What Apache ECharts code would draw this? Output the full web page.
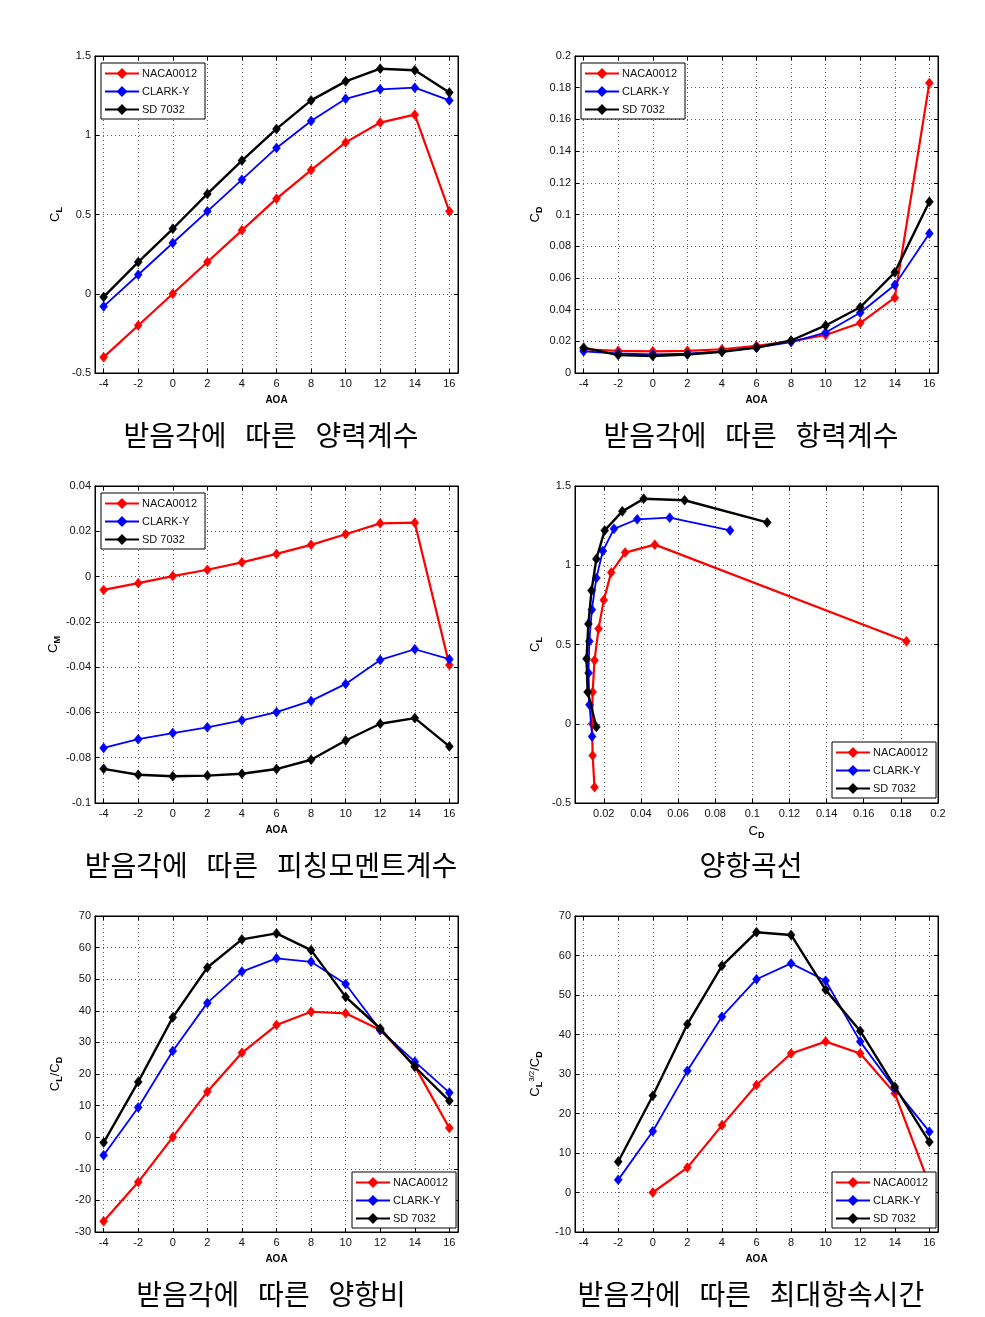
<!DOCTYPE html>
<html><head><meta charset="utf-8">
<script src="https://cdn.jsdelivr.net/npm/echarts@6/dist/echarts.min.js"></script>
<style>html,body{margin:0;padding:0;background:#fff}#c{width:985px;height:1317px}</style>
</head><body><div id="c"></div>
<script>
// ---------- DATA ----------
const aoa = [-4, -2, 0, 2, 4, 6, 8, 10, 12, 14, 16];
const aoaTicks = [-4, -2, 0, 2, 4, 6, 8, 10, 12, 14, 16];
const cdTicks = [0.02, 0.04, 0.06, 0.08, 0.1, 0.12, 0.14, 0.16, 0.18, 0.2];
const seriesNames = ['NACA0012', 'CLARK-Y', 'SD 7032'];

// Lift coefficient C_L vs AOA
const clNACA = [-0.40, -0.20, 0.00, 0.20, 0.40, 0.60, 0.78, 0.955, 1.08, 1.13, 0.52];
const clCLARK = [-0.08, 0.12, 0.32, 0.52, 0.72, 0.92, 1.09, 1.23, 1.29, 1.30, 1.22];
const clSD = [-0.02, 0.20, 0.41, 0.63, 0.84, 1.04, 1.22, 1.34, 1.42, 1.41, 1.27];

// Drag coefficient C_D vs AOA
const cdNACA = [0.0150, 0.0140, 0.0137, 0.0140, 0.0150, 0.0172, 0.0200, 0.0240, 0.0315, 0.0475, 0.183];
const cdCLARK = [0.0137, 0.0123, 0.0118, 0.0122, 0.0136, 0.0160, 0.0195, 0.0255, 0.0380, 0.0555, 0.0880];
const cdSD = [0.0160, 0.0113, 0.0107, 0.0117, 0.0134, 0.0160, 0.0205, 0.0300, 0.0415, 0.0635, 0.1080];

// Pitching moment coefficient C_M vs AOA
const cmNACA = [-0.0059, -0.0029, 0.0002, 0.0030, 0.0063, 0.0100, 0.0140, 0.0187, 0.0235, 0.0238, -0.0390];
const cmCLARK = [-0.0757, -0.0718, -0.0691, -0.0666, -0.0635, -0.0599, -0.0549, -0.0474, -0.0368, -0.0321, -0.0365];
const cmSD = [-0.0849, -0.0875, -0.0882, -0.0879, -0.0871, -0.0850, -0.0809, -0.0724, -0.0650, -0.0625, -0.0750];

// Lift-to-drag ratio C_L/C_D vs AOA
const ldNACA = [-26.6, -14.2, 0.0, 14.4, 26.7, 35.5, 39.7, 39.2, 33.9, 22.5, 2.9];
const ldCLARK = [-5.7, 9.4, 27.3, 42.5, 52.4, 56.6, 55.5, 48.5, 33.9, 23.9, 14.1];
const ldSD = [-1.7, 17.5, 37.9, 53.7, 62.6, 64.5, 59.2, 44.4, 34.4, 22.3, 11.5];

// Endurance factor C_L^(3/2)/C_D vs AOA (null where C_L < 0)
const enNACA = [null, null, 0.0, 6.3, 17.0, 27.2, 35.2, 38.2, 35.2, 25.1, 2.0];
const enCLARK = [null, 3.2, 15.5, 30.8, 44.5, 54.0, 58.0, 53.6, 38.2, 26.3, 15.4];
const enSD = [null, 7.8, 24.5, 42.6, 57.4, 65.9, 65.2, 51.3, 40.9, 26.8, 12.8];

const captions = [
  '받음각에   따른   양력계수',
  '받음각에   따른   항력계수',
  '받음각에   따른   피칭모멘트계수',
  '양항곡선',
  '받음각에   따른   양항비',
  '받음각에   따른   최대항속시간'
];

// ---------- LAYOUT / STYLE ----------
const colors = ['#ff0000', '#0000ff', '#000000'];
const lineWidths = [2.2, 1.8, 2.4];
const FONT = 'Liberation Sans, Arial, sans-serif';
const grids = [
  {left: 95, top: 56, width: 363, height: 317},
  {left: 575, top: 56, width: 363, height: 317},
  {left: 95, top: 486, width: 363, height: 317},
  {left: 575, top: 486, width: 363, height: 317},
  {left: 95, top: 916, width: 363, height: 316},
  {left: 575, top: 916, width: 363, height: 316}
];
const captionPos = [
  {x: 266, y: 416}, {x: 746, y: 416},
  {x: 266, y: 846}, {x: 746, y: 846},
  {x: 266, y: 1275}, {x: 746, y: 1275}
];
const legendPos = [
  {left: 101, top: 63}, {left: 581, top: 63}, {left: 101, top: 493},
  {left: 832, top: 742}, {left: 352, top: 1172}, {left: 832, top: 1172}
];

const nameRich = {
  c: {fontSize: 13, fontFamily: FONT, color: '#000'},
  s: {fontSize: 9, fontFamily: FONT, color: '#000', fontWeight: 'bold', padding: [8, 0, 0, 0]},
  p: {fontSize: 8, fontFamily: FONT, color: '#000', padding: [0, 0, 8, 0]}
};

const panelAxes = [
  {x: {min: -4.5, max: 16.5, ticks: aoaTicks, name: 'AOA'}, y: {min: -0.5, max: 1.5, interval: 0.5, name: '{c|C}{s|L}'}},
  {x: {min: -4.5, max: 16.5, ticks: aoaTicks, name: 'AOA'}, y: {min: 0, max: 0.2, interval: 0.02, name: '{c|C}{s|D}'}},
  {x: {min: -4.5, max: 16.5, ticks: aoaTicks, name: 'AOA'}, y: {min: -0.1, max: 0.04, interval: 0.02, name: '{c|C}{s|M}'}},
  {x: {min: 0.0045, max: 0.2, ticks: cdTicks, name: '{c|C}{s|D}'}, y: {min: -0.5, max: 1.5, interval: 0.5, name: '{c|C}{s|L}'}},
  {x: {min: -4.5, max: 16.5, ticks: aoaTicks, name: 'AOA'}, y: {min: -30, max: 70, interval: 10, name: '{c|C}{s|L}{c|/C}{s|D}'}},
  {x: {min: -4.5, max: 16.5, ticks: aoaTicks, name: 'AOA'}, y: {min: -10, max: 70, interval: 10, name: '{c|C}{s|L}{p|3/2}{c|/C}{s|D}'}}
];

const panelData = [
  [clNACA, clCLARK, clSD],
  [cdNACA, cdCLARK, cdSD],
  [cmNACA, cmCLARK, cmSD],
  null,
  [ldNACA, ldCLARK, ldSD],
  [enNACA, enCLARK, enSD]
];

const xAxes = [], yAxes = [], series = [], legends = [], titles = [];
const tickStyle = {show: true, inside: true, length: 4, lineStyle: {color: '#000', width: 1}};
const splitStyle = {show: true, lineStyle: {color: '#555', width: 1, type: [1, 3]}};
const lineStyleAxis = {show: true, onZero: false, lineStyle: {color: '#000', width: 1}};

panelAxes.forEach((p, gi) => {
  const xi = xAxes.length;
  xAxes.push({
    type: 'value', gridIndex: gi, position: 'bottom', min: p.x.min, max: p.x.max,
    axisLine: lineStyleAxis,
    axisTick: Object.assign({customValues: p.x.ticks}, tickStyle),
    axisLabel: {customValues: p.x.ticks, color: '#111', fontSize: 11, fontFamily: FONT, margin: 5},
    splitLine: splitStyle,
    name: p.x.name, nameLocation: 'middle', nameGap: gi === 3 ? 20 : 22,
    nameTextStyle: p.x.name === 'AOA'
      ? {fontSize: 10, fontWeight: 'bold', fontFamily: FONT, color: '#000'}
      : {rich: nameRich}
  });
  xAxes.push({
    type: 'value', gridIndex: gi, position: 'top', min: p.x.min, max: p.x.max,
    axisLine: lineStyleAxis,
    axisTick: Object.assign({customValues: p.x.ticks}, tickStyle),
    axisLabel: {show: false}, splitLine: {show: false}
  });
  const yi = yAxes.length;
  yAxes.push({
    type: 'value', gridIndex: gi, position: 'left', min: p.y.min, max: p.y.max, interval: p.y.interval,
    axisLine: lineStyleAxis,
    axisTick: tickStyle,
    axisLabel: {color: '#111', fontSize: 11, fontFamily: FONT, margin: 4},
    splitLine: splitStyle,
    name: p.y.name, nameLocation: 'middle', nameRotate: 90, nameGap: 31,
    nameTextStyle: {rich: nameRich}
  });
  yAxes.push({
    type: 'value', gridIndex: gi, position: 'right', min: p.y.min, max: p.y.max, interval: p.y.interval,
    axisLine: lineStyleAxis,
    axisTick: tickStyle, axisLabel: {show: false}, splitLine: {show: false}
  });

  seriesNames.forEach((nm, si) => {
    let data;
    if (gi === 3) {
      const cds = [cdNACA, cdCLARK, cdSD][si];
      const cls = [clNACA, clCLARK, clSD][si];
      data = cds.map((v, i) => [v, cls[i]]);
    } else {
      const arr = panelData[gi][si];
      data = aoa.map((a, i) => [a, arr[i]]).filter(d => d[1] !== null);
    }
    series.push({
      type: 'line', name: nm, xAxisIndex: xi, yAxisIndex: yi, data: data,
      symbol: 'diamond', symbolSize: [8, 10], showSymbol: true,
      lineStyle: {color: colors[si], width: lineWidths[si]},
      itemStyle: {color: colors[si], borderColor: colors[si], borderWidth: 0.5},
      emphasis: {disabled: true}, z: 3 + si, clip: false
    });
  });

  legends.push({
    data: seriesNames, orient: 'vertical', left: legendPos[gi].left, top: legendPos[gi].top,
    width: 100, itemWidth: 34, itemHeight: 10, itemGap: 7,
    padding: [5, 8, 4, 3], backgroundColor: '#fff', borderColor: '#000', borderWidth: 1,
    borderRadius: 0,
    textStyle: {fontSize: 11, fontFamily: FONT, color: '#111', padding: [0, 0, 0, -2]},
    selectedMode: false, z: 10
  });

  titles.push({
    text: captions[gi], left: captionPos[gi].x, top: captionPos[gi].y, textAlign: 'center',
    textStyle: {fontSize: 28, fontWeight: 'normal', color: '#000', fontFamily: 'Noto Sans CJK KR'}
  });
});

const chart = echarts.init(document.getElementById('c'), null, {renderer: 'canvas'});
chart.setOption({
  animation: false,
  backgroundColor: '#fff',
  title: titles,
  legend: legends,
  grid: grids.map(g => Object.assign({show: true, borderColor: '#000', borderWidth: 1, backgroundColor: '#fff', containLabel: false}, g)),
  xAxis: xAxes,
  yAxis: yAxes,
  series: series
});
</script>
</body></html>
